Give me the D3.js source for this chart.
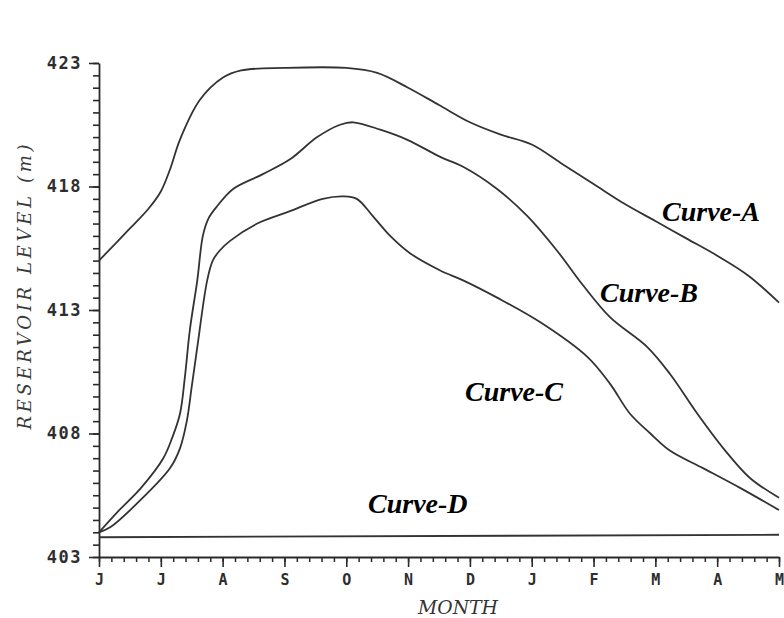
<!DOCTYPE html>
<html>
<head>
<meta charset="utf-8">
<script src="https://cdn.jsdelivr.net/npm/d3@7"></script>
<style>
  html, body { margin: 0; padding: 0; background: #fff; }
  svg { display: block; }
</style>
</head>
<body>
<svg id="chart" width="784" height="618"></svg>
<script>
// ---- data ----
const months = ["J","J","A","S","O","N","D","J","F","M","A","M"];
const yTicks = [403, 408, 413, 418, 423];

// month positions (0 = June ... 11 = May) and reservoir levels (m)
const curveA_t = [0, 0.5, 0.8, 1.0, 1.15, 1.31, 1.63, 2.0, 2.3, 3.0, 4.0, 4.5, 5.0, 5.5, 6.0, 6.5, 7.0, 7.5, 8.0, 8.5, 9.0, 9.5, 10.0, 10.5, 11];
const curveA_v = [415.0, 416.3, 417.1, 417.8, 418.7, 419.9, 421.5, 422.4, 422.7, 422.8, 422.8, 422.6, 422.0, 421.3, 420.6, 420.1, 419.7, 418.9, 418.1, 417.3, 416.6, 415.9, 415.2, 414.4, 413.3];

const curveB_t = [0, 0.29, 0.68, 1.04, 1.18, 1.31, 1.39, 1.47, 1.59, 1.68, 1.77, 1.91, 2.17, 2.65, 3.09, 3.53, 3.9, 4.11, 4.55, 4.98, 5.52, 5.89, 6.44, 6.93, 7.41, 7.83, 8.27, 8.87, 9.24, 9.68, 10.1, 10.53, 11];
const curveB_v = [404.0, 404.8, 405.8, 407.0, 407.8, 408.8, 410.3, 412.2, 414.2, 416.0, 416.7, 417.2, 417.9, 418.5, 419.1, 420.0, 420.5, 420.6, 420.3, 419.9, 419.2, 418.8, 417.9, 416.8, 415.4, 414.0, 412.7, 411.5, 410.4, 408.8, 407.4, 406.2, 405.4];

const curveC_t = [0, 0.18, 0.71, 1.15, 1.31, 1.42, 1.5, 1.59, 1.75, 1.84, 1.95, 2.12, 2.56, 3.09, 3.62, 3.95, 4.17, 4.43, 4.71, 5.03, 5.52, 5.89, 6.44, 7.14, 7.9, 8.27, 8.59, 8.92, 9.24, 9.77, 10.37, 11];
const curveC_v = [404.0, 404.2, 405.4, 406.6, 407.4, 408.5, 409.9, 411.5, 414.2, 415.0, 415.4, 415.8, 416.5, 417.0, 417.5, 417.6, 417.5, 416.8, 416.0, 415.3, 414.6, 414.2, 413.5, 412.5, 411.1, 410.0, 408.8, 408.0, 407.3, 406.6, 405.8, 404.9];

const curveD_t = [0, 11];
const curveD_v = [403.8, 403.9];

const curveNames = ["Curve-A", "Curve-B", "Curve-C", "Curve-D"];

// ---- layout ----
const svg = d3.select("#chart");
const x = d3.scaleLinear().domain([0, 11]).range([99, 779]);
const y = d3.scaleLinear().domain([403, 423]).range([557, 63]);
const ink = "#2a2a2a";

// minor y ticks
const yMinor = d3.range(403, 423.01, 0.5);
svg.append("g")
  .attr("transform", `translate(${x(0)},0)`)
  .call(d3.axisLeft(y).tickValues(yMinor).tickSize(6).tickFormat(""))
  .call(g => g.select(".domain").remove())
  .call(g => g.selectAll("line").attr("stroke", ink).attr("stroke-width", 1.6));

// major y axis
svg.append("g")
  .attr("transform", `translate(${x(0)},0)`)
  .call(d3.axisLeft(y).tickValues(yTicks).tickSize(10).tickPadding(7).tickSizeOuter(0).tickFormat(d3.format("d")))
  .call(g => g.select(".domain").attr("stroke", ink).attr("stroke-width", 1.8))
  .call(g => g.selectAll("line").attr("stroke", ink).attr("stroke-width", 1.6))
  .call(g => g.selectAll("text")
    .attr("fill", "#2e2e2e")
    .attr("font-family", "'DejaVu Sans Mono', monospace")
    .attr("font-weight", "bold")
    .attr("font-size", 17)
    .attr("letter-spacing", 1.5));

// minor x ticks
const xMinor = d3.range(0, 11.001, 0.2);
svg.append("g")
  .attr("transform", `translate(0,${y(403)})`)
  .call(d3.axisBottom(x).tickValues(xMinor).tickSize(5).tickFormat(""))
  .call(g => g.select(".domain").remove())
  .call(g => g.selectAll("line").attr("stroke", ink).attr("stroke-width", 1.5));

// major x axis
svg.append("g")
  .attr("transform", `translate(0,${y(403)})`)
  .call(d3.axisBottom(x).tickValues(d3.range(12)).tickSize(10).tickPadding(7).tickSizeOuter(0).tickFormat(i => months[i]))
  .call(g => g.select(".domain").attr("stroke", ink).attr("stroke-width", 1.8))
  .call(g => g.selectAll("line").attr("stroke", ink).attr("stroke-width", 1.6))
  .call(g => g.selectAll("text")
    .attr("fill", "#2e2e2e")
    .attr("font-family", "'DejaVu Sans Mono', monospace")
    .attr("font-weight", "bold")
    .attr("font-size", 15));

// axis titles
svg.append("text")
  .attr("transform", "translate(31,287) rotate(-90)")
  .attr("text-anchor", "middle")
  .attr("font-family", "'DejaVu Serif', serif")
  .attr("font-style", "italic")
  .attr("font-size", 18)
  .attr("fill", "#3a3a3a")
  .attr("textLength", 285)
  .attr("lengthAdjust", "spacing")
  .text("RESERVOIR LEVEL (m)");

svg.append("text")
  .attr("x", 458)
  .attr("y", 614)
  .attr("text-anchor", "middle")
  .attr("font-family", "'DejaVu Serif', serif")
  .attr("font-style", "italic")
  .attr("font-size", 18)
  .attr("fill", "#333")
  .attr("textLength", 80)
  .attr("lengthAdjust", "spacingAndGlyphs")
  .text("MONTH");

// curves
const series = [
  { t: curveA_t, v: curveA_v },
  { t: curveB_t, v: curveB_v },
  { t: curveC_t, v: curveC_v },
  { t: curveD_t, v: curveD_v }
];
const line = d3.line()
  .x(d => x(d[0]))
  .y(d => y(d[1]))
  .curve(d3.curveCatmullRom.alpha(0.5));

svg.append("g").selectAll("path")
  .data(series)
  .join("path")
  .attr("d", s => line(s.t.map((t, i) => [t, s.v[i]])))
  .attr("fill", "none")
  .attr("stroke", "#333")
  .attr("stroke-width", 1.8);

// curve labels
const labelPos = [[662, 221], [600, 302], [465, 401], [368, 513]];
svg.append("g").selectAll("text")
  .data(curveNames)
  .join("text")
  .attr("x", (d, i) => labelPos[i][0])
  .attr("y", (d, i) => labelPos[i][1])
  .attr("font-family", "'Liberation Serif', 'Times New Roman', serif")
  .attr("font-style", "italic")
  .attr("font-weight", "bold")
  .attr("font-size", 28)
  .attr("fill", "#000")
  .text(d => d);
</script>
</body>
</html>
